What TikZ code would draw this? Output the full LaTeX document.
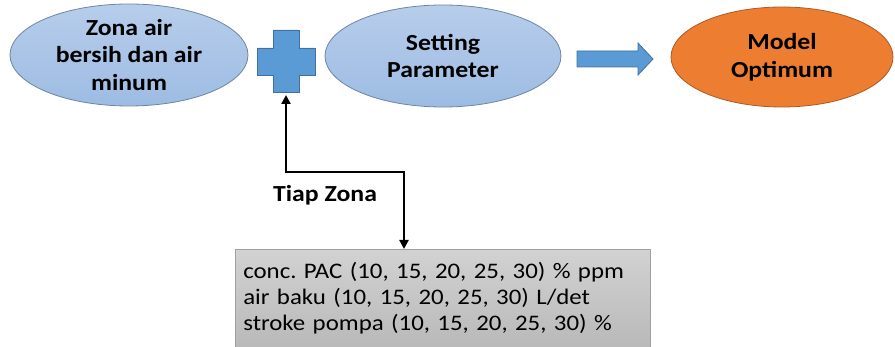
\documentclass[tikz,border=0pt]{standalone}
\usepackage{fontspec}
\setmainfont[FakeStretch=1.12]{Carlito}
\usetikzlibrary{shapes.geometric,arrows.meta}
\frenchspacing
\definecolor{ellTop}{HTML}{B7CDEB}
\definecolor{ellBot}{HTML}{9DBCE3}
\definecolor{ellLine}{HTML}{6F85A0}
\definecolor{orFill}{HTML}{ED7D31}
\definecolor{orLine}{HTML}{AE5A21}
\definecolor{blFill}{HTML}{5B9BD5}
\definecolor{blLine}{HTML}{41719C}
\definecolor{boxTop}{HTML}{D2D2D2}
\definecolor{boxBot}{HTML}{B9B9B9}
\definecolor{boxLine}{HTML}{A0A0A0}
\tikzset{
  ell/.style={ellipse, draw=ellLine, line width=0.8pt, top color=ellTop, bottom color=ellBot,
    font=\bfseries\fontsize{23}{27.5}\selectfont, align=center, inner sep=0pt},
  orell/.style={ellipse, draw=orLine, line width=0.8pt, fill=orFill,
    font=\bfseries\fontsize{23}{27.5}\selectfont, align=center, inner sep=0pt},
  blockshape/.style={draw=blLine, line width=0.8pt, fill=blFill},
  conn/.style={line width=2.6pt, black, {Triangle[length=9pt,width=9pt]}-{Triangle[length=9pt,width=9pt]}},
  parambox/.style={rectangle, draw=boxLine, line width=0.6pt, top color=boxTop, bottom color=boxBot,
    font=\fontsize{22.2}{26}\selectfont, align=left, inner xsep=8pt, inner ysep=13pt,
    minimum width=415pt, text width=399pt}
}
\begin{document}
\begin{tikzpicture}[x=1pt,y=-1pt]
\useasboundingbox (0,0) rectangle (895,347);
\clip (0,0) rectangle (895,347);
\node[ell, minimum width=238pt, minimum height=102pt] (zona) at (129,55) {Zona air\\bersih dan air\\minum};
\node[ell, minimum width=236pt, minimum height=102pt] (setting) at (443,56) {Setting\\Parameter};
\node[orell, minimum width=222pt, minimum height=100pt] (model) at (782,57) {Model\\Optimum};
% plus sign
\draw[blockshape] (273,30) -- (299,30) -- (299,48) -- (315,48) -- (315,75) -- (299,75) -- (299,92)
  -- (273,92) -- (273,75) -- (257,75) -- (257,48) -- (273,48) -- cycle;
\coordinate (plusbot) at (286,95);
% block arrow
\draw[blockshape] (577,51) -- (638,51) -- (638,43) -- (653,59) -- (638,75) -- (638,67) -- (577,67) -- cycle;
% parameter box
\node[parambox, anchor=north west] (box) at (235,249)
  {conc. PAC (10, 15, 20, 25, 30) \% ppm\\air baku (10, 15, 20, 25, 30) L/det\\stroke pompa (10, 15, 20, 25, 30) \%};
\coordinate (turnA) at (286,172);
\coordinate (turnB) at (404,172);
\draw[conn] (plusbot) -- (turnA) -- (turnB) -- (box.north -| turnB);
\node[font=\bfseries\fontsize{23}{27}\selectfont] (tiap) at (325,195) {Tiap Zona};
\end{tikzpicture}
\end{document}
